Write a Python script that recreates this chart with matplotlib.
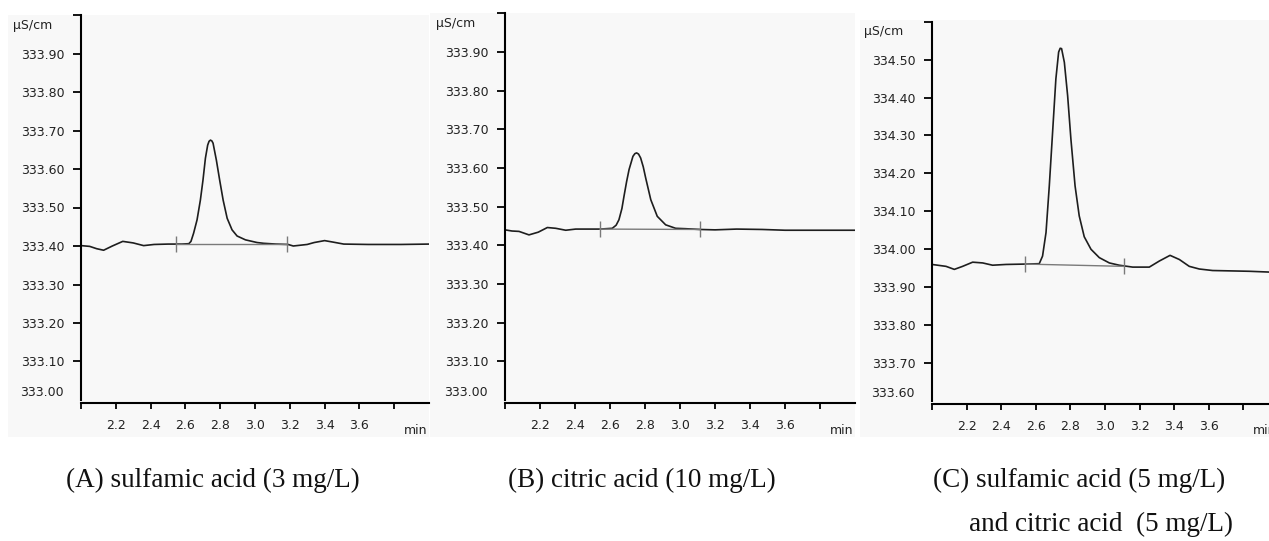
import matplotlib
matplotlib.use("Agg")
import matplotlib.pyplot as plt
from matplotlib.patches import Rectangle
import matplotlib.transforms as mtransforms

W, H = 1269, 541

# --- data (time in min, conductivity in uS/cm) ---
t_a = [2.00, 2.05, 2.09, 2.13, 2.18, 2.24, 2.30, 2.36, 2.42, 2.50, 2.58, 2.62,
       2.632, 2.647, 2.667, 2.686, 2.701, 2.715, 2.728, 2.736, 2.744, 2.752,
       2.759, 2.778, 2.797, 2.817, 2.840, 2.868, 2.897, 2.945, 3.012, 3.05,
       3.12, 3.19, 3.22, 3.30, 3.34, 3.40, 3.45, 3.51, 3.65, 3.84, 4.00]
s_a = [333.401, 333.399, 333.393, 333.389, 333.400, 333.412, 333.408, 333.401,
       333.404, 333.405, 333.405, 333.406, 333.412, 333.433, 333.468, 333.519,
       333.571, 333.628, 333.662, 333.672, 333.675, 333.673, 333.667, 333.623,
       333.571, 333.519, 333.472, 333.442, 333.426, 333.416, 333.409, 333.407,
       333.405, 333.404, 333.400, 333.404, 333.409, 333.414, 333.410, 333.405,
       333.404, 333.404, 333.405]

t_b = [2.00, 2.04, 2.08, 2.137, 2.19, 2.242, 2.29, 2.347, 2.404, 2.47, 2.543,
       2.613, 2.635, 2.651, 2.668, 2.68, 2.695, 2.709, 2.731, 2.742, 2.752,
       2.763, 2.775, 2.79, 2.804, 2.833, 2.87, 2.918, 2.975, 3.03, 3.114, 3.20,
       3.324, 3.47, 3.60, 3.80, 4.00]
s_b = [333.440, 333.437, 333.436, 333.427, 333.434, 333.446, 333.444, 333.439,
       333.442, 333.442, 333.442, 333.444, 333.452, 333.466, 333.495, 333.527,
       333.565, 333.596, 333.630, 333.637, 333.639, 333.636, 333.626, 333.603,
       333.574, 333.518, 333.475, 333.453, 333.444, 333.443, 333.441, 333.440,
       333.442, 333.441, 333.439, 333.439, 333.439]

t_c = [2.00, 2.081, 2.129, 2.177, 2.235, 2.293, 2.35, 2.428, 2.539, 2.62,
       2.639, 2.659, 2.678, 2.697, 2.716, 2.732, 2.741, 2.749, 2.765, 2.784,
       2.803, 2.827, 2.851, 2.88, 2.919, 2.967, 3.025, 3.082, 3.16, 3.256,
       3.314, 3.376, 3.43, 3.487, 3.545, 3.622, 3.834, 4.00]
s_c = [333.960, 333.955, 333.947, 333.955, 333.966, 333.964, 333.958, 333.960,
       333.961, 333.962, 333.982, 334.044, 334.167, 334.308, 334.449, 334.520,
       334.530, 334.529, 334.493, 334.405, 334.290, 334.167, 334.088, 334.033,
       334.000, 333.978, 333.964, 333.958, 333.953, 333.953, 333.969, 333.984,
       333.973, 333.955, 333.948, 333.944, 333.942, 333.939]

# integration baselines (start / end of peak)
base_a_t = [2.548, 3.186]
base_a_s = [333.405, 333.405]
base_b_t = [2.543, 3.114]
base_b_s = [333.442, 333.441]
base_c_t = [2.539, 3.108]
base_c_s = [333.961, 333.955]

ylim_a = [333.00, 334.00]
ylim_b = [333.00, 334.00]
ylim_c = [333.60, 334.60]

xtick_vals = [2.0, 2.2, 2.4, 2.6, 2.8, 3.0, 3.2, 3.4, 3.6, 3.8]
xtick_labels = ["", "2.2", "2.4", "2.6", "2.8", "3.0", "3.2", "3.4", "3.6", ""]

captions = ["(A) sulfamic acid (3 mg/L)",
            "(B) citric acid (10 mg/L)",
            "(C) sulfamic acid (5 mg/L)",
            "and citric acid  (5 mg/L)"]

PT = 72 / 100  # pixels -> points
TXT = "#222222"
plt.rcParams["font.family"] = ["DejaVu Sans"]

fig = plt.figure(figsize=(W / 100, H / 100), dpi=100)
fig.patch.set_facecolor("white")


def px_box(l, t, r, b):
    return [l / W, 1 - b / H, (r - l) / W, (b - t) / H]


def draw_panel(box, bg, t, s, bt, bs, ylim, ylab_xy):
    # light grey plot window behind the chromatogram
    l, tp, r, b = bg
    fig.add_artist(Rectangle((l / W, 1 - b / H), (r - l) / W, (b - tp) / H,
                             transform=fig.transFigure, facecolor="#f8f8f8",
                             edgecolor="none", zorder=-5))
    ax = fig.add_axes(px_box(*box))
    ax.set_facecolor("none")
    ax.plot(t, s, color="#1e1e1e", lw=1.2)
    ax.plot(bt, bs, color="#7a7a7a", lw=1.0, marker="|", ms=16 * PT,
            mew=1.0)
    ax.set_xlim(2.0, 4.0)
    ax.set_ylim(*ylim)

    for side in ["top", "right"]:
        ax.spines[side].set_visible(False)
    ax.spines["left"].set_linewidth(1.5)
    ax.spines["bottom"].set_linewidth(1.5)
    ax.spines["bottom"].set_position(("outward", 3 * PT))

    lo = ylim[0]
    yt = [round(lo + 0.1 * k, 2) for k in range(10, 0, -1)]
    ax.set_yticks(yt)
    ax.set_yticklabels([""] + ["%.2f" % v for v in yt[1:]])
    ax.set_xticks(xtick_vals)
    ax.set_xticklabels(xtick_labels)
    ax.tick_params(axis="y", direction="out", length=8 * PT, width=1.3,
                   pad=6.3, labelsize=9, labelcolor=TXT)
    ax.tick_params(axis="x", direction="out", length=6 * PT, width=1.3,
                   pad=7, labelsize=9, labelcolor=TXT)

    # bottom value label sits a little above the axis end, without a tick
    trans = mtransforms.blended_transform_factory(ax.transAxes, ax.transData)
    ax.annotate("%.2f" % lo, xy=(0, lo), xycoords=trans,
                xytext=(-17 * PT, 7.3 * PT), textcoords="offset points",
                ha="right", va="center", fontsize=9, color=TXT,
                annotation_clip=False)
    fig.text(ylab_xy[0] / W, 1 - ylab_xy[1] / H, "µS/cm", fontsize=9,
             color=TXT, ha="left", va="center")
    fig.text((box[2] - 2) / W, 1 - 431 / H, "min", fontsize=9, color=TXT,
             ha="right", va="center")
    return ax


draw_panel((81, 15, 429, 400), (8, 15, 429, 437), t_a, s_a,
           base_a_t, base_a_s, ylim_a, (12.5, 26))
draw_panel((505, 13.3, 855, 400), (430, 13, 855, 437), t_b, s_b,
           base_b_t, base_b_s, ylim_b, (436, 24))
draw_panel((932, 21.7, 1278, 401), (860, 20, 1269, 437), t_c, s_c,
           base_c_t, base_c_s, ylim_c, (864, 31.7))

# captions under each chromatogram
serif = ["Liberation Serif", "DejaVu Serif"]
cap_pos = [(66, 487), (508, 487), (933, 487), (969, 531)]
for txt, (x, y) in zip(captions, cap_pos):
    fig.text(x / W, 1 - y / H, txt, fontsize=19.5, family=serif,
             color="#111111", ha="left", va="baseline")

fig.savefig("out.png", dpi=100)
